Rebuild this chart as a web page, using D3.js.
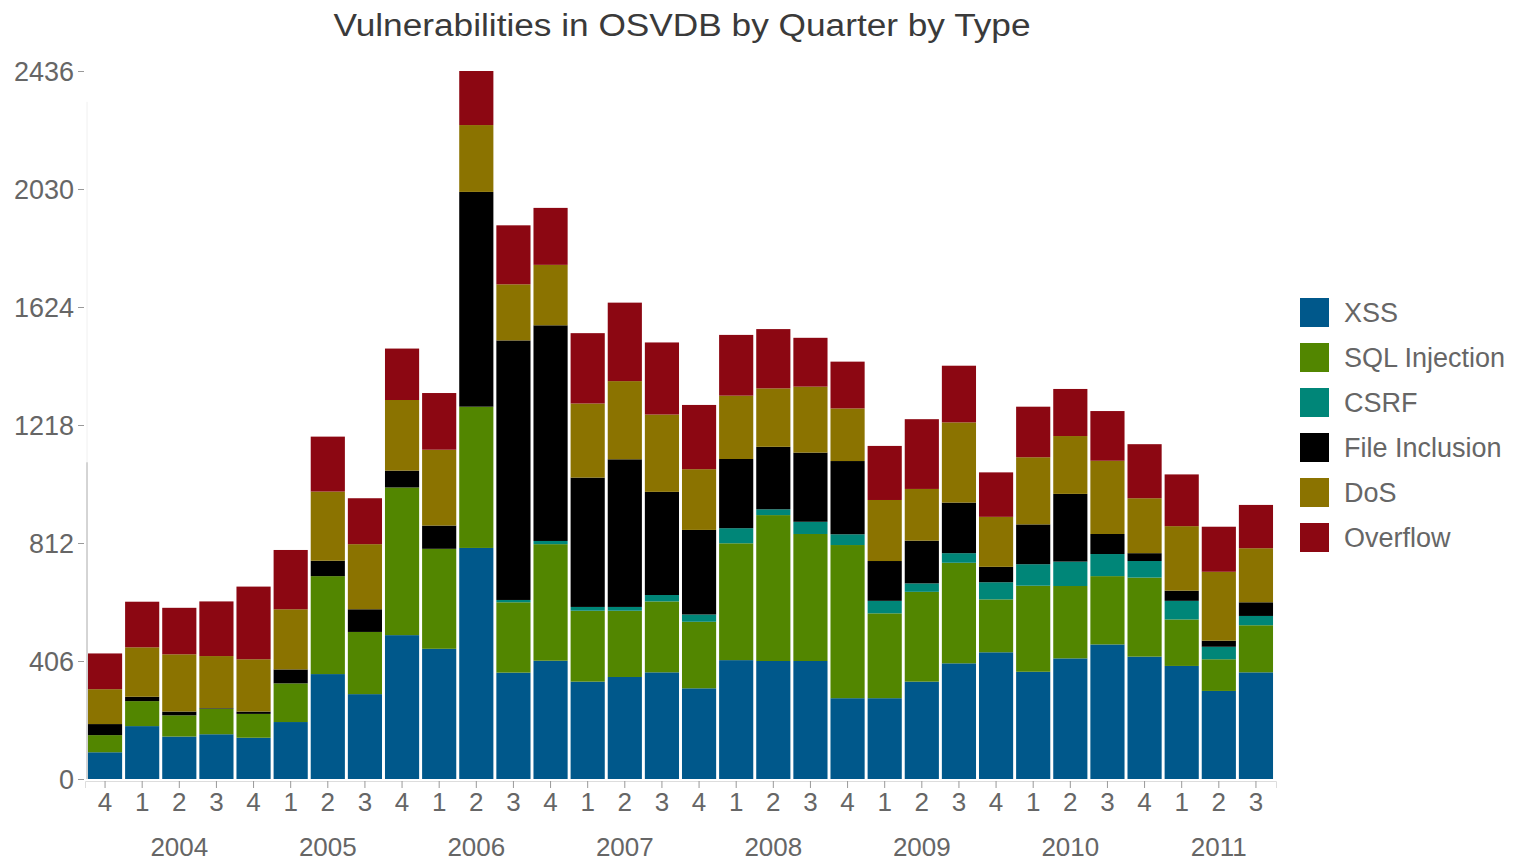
<!DOCTYPE html>
<html>
<head>
<meta charset="utf-8">
<script src="https://cdn.jsdelivr.net/npm/d3@7"></script>
<style>
  html, body { margin: 0; padding: 0; background: #fff; }
  svg { display: block; font-family: "Liberation Sans", Arial, sans-serif; }
</style>
</head>
<body>
<svg id="chart" width="1514" height="864"></svg>
<script>
// ---- data ----
const quarterLabels = ["4","1","2","3","4","1","2","3","4","1","2","3","4","1","2","3","4","1","2","3","4","1","2","3","4","1","2","3","4","1","2","3"];
const yearOfBar = [2003,2004,2004,2004,2004,2005,2005,2005,2005,2006,2006,2006,2006,2007,2007,2007,2007,2008,2008,2008,2008,2009,2009,2009,2009,2010,2010,2010,2010,2011,2011,2011];
const yearLabels = ["2004","2005","2006","2007","2008","2009","2010","2011"];
const seriesNames = ["XSS","SQL Injection","CSRF","File Inclusion","DoS","Overflow"];
const seriesColors = ["#00588b","#528600","#008678","#000000","#8b7300","#8c0712"];
const yTickValues = [0,406,812,1218,1624,2030,2436];

const xss      = [92,182,146,154,142,196,361,292,495,448,795,366,407,335,351,367,312,409,406,406,278,278,335,398,436,369,415,463,421,389,303,367];
const sql      = [59,86,73,88,82,133,337,214,508,344,486,242,401,244,228,244,229,402,502,437,527,292,309,346,182,296,249,235,272,160,109,162];
const csrf     = [0,0,0,0,0,0,0,0,0,0,0,8,11,13,13,22,25,52,20,42,37,43,29,33,59,74,84,76,57,64,43,32];
const fileInc  = [38,15,13,2,8,48,53,78,58,80,739,893,742,445,508,355,291,238,215,238,252,137,147,174,53,137,233,69,27,35,21,47];
const dos      = [120,170,197,179,180,207,238,224,243,261,230,193,208,255,269,266,209,218,201,227,181,210,178,276,172,231,199,252,189,222,237,186];
const overflow = [123,157,160,188,250,204,189,158,177,195,186,203,196,242,270,248,221,209,204,168,161,186,240,195,153,174,162,171,186,178,155,149];

const seriesValues = [xss, sql, csrf, fileInc, dos, overflow];

// ---- build table ----
const rows = quarterLabels.map((q, i) => {
  const r = { idx: i, q: q, year: yearOfBar[i] };
  seriesNames.forEach((s, k) => { r[s] = seriesValues[k][i]; });
  return r;
});

const svg = d3.select("#chart");

const x = d3.scaleBand()
  .domain(rows.map(d => d.idx))
  .range([85, 1276])
  .paddingInner(0.08)
  .paddingOuter(0.08);

const y = d3.scaleLinear().domain([0, 2436]).range([779, 71]);

const color = d3.scaleOrdinal().domain(seriesNames).range(seriesColors);

const stacked = d3.stack().keys(seriesNames)(rows);

// bars
svg.append("g").selectAll("g")
  .data(stacked)
  .join("g")
  .attr("fill", d => color(d.key))
  .selectAll("rect")
  .data(d => d)
  .join("rect")
  .attr("x", d => x(d.data.idx))
  .attr("width", x.bandwidth())
  .attr("y", d => y(d[1]))
  .attr("height", d => Math.max(0, y(d[0]) - y(d[1])));

// y axis
const yAxis = d3.axisLeft(y).tickValues(yTickValues).tickSize(6).tickPadding(4).tickFormat(d3.format("d"));
const gy = svg.append("g").attr("transform", "translate(84,0)").call(yAxis);
gy.select(".domain").remove();
gy.selectAll(".tick line").attr("stroke", "#999");
gy.selectAll(".tick text").attr("fill", "#666").style("font-size", "27px")
  .attr("dy", "0.35em");

// partial vertical axis line (as seen in reference)
svg.append("line")
  .attr("x1", 87).attr("x2", 87)
  .attr("y1", y(0)).attr("y2", y(1090))
  .attr("stroke", "#aaa").attr("stroke-width", 1);
svg.append("line")
  .attr("x1", 87).attr("x2", 87)
  .attr("y1", y(1090)).attr("y2", y(2330))
  .attr("stroke", "#f0f0f0").attr("stroke-width", 1);

// x axis
const xAxis = d3.axisBottom(x).tickSize(7).tickPadding(5).tickFormat(i => quarterLabels[i]);
const gx = svg.append("g").attr("transform", "translate(0,781)").call(xAxis);
gx.select(".domain").attr("stroke", "#ddd");
gx.selectAll(".tick line").attr("stroke", "#999");
gx.selectAll(".tick text").attr("fill", "#666").style("font-size", "26px");

// year labels (placed under quarter 2 of each year)
const yearPos = yearLabels.map(yr => {
  const i = rows.findIndex(r => String(r.year) === yr && r.q === "2");
  return { label: yr, cx: x(i) + x.bandwidth() / 2 };
});
svg.append("g").selectAll("text")
  .data(yearPos)
  .join("text")
  .attr("x", d => d.cx)
  .attr("y", 856)
  .attr("text-anchor", "middle")
  .attr("fill", "#666")
  .style("font-size", "26px")
  .text(d => d.label);

// title
svg.append("text")
  .attr("x", 682)
  .attr("y", 36)
  .attr("text-anchor", "middle")
  .attr("fill", "#3a3a3a")
  .attr("textLength", 697)
  .attr("lengthAdjust", "spacingAndGlyphs")
  .style("font-size", "31px")
  .text("Vulnerabilities in OSVDB by Quarter by Type");

// legend
const legend = svg.append("g").attr("transform", "translate(1300,298)");
const li = legend.selectAll("g")
  .data(seriesNames)
  .join("g")
  .attr("transform", (d, i) => `translate(0,${i * 45})`);
li.append("rect").attr("width", 29).attr("height", 29).attr("fill", d => color(d));
li.append("text")
  .attr("x", 44)
  .attr("y", 24)
  .attr("fill", "#666")
  .style("font-size", "27px")
  .text(d => d);
</script>
</body>
</html>
